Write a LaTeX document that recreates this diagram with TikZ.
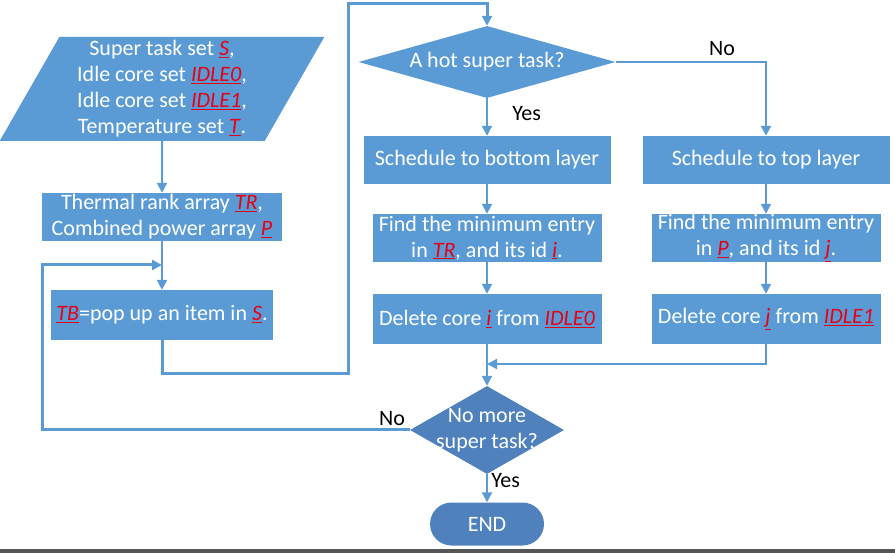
\documentclass[tikz,border=0pt]{standalone}
\usepackage{fontspec}
\setmainfont{Carlito}
\usetikzlibrary{shapes.geometric,shapes.misc,arrows.meta}
\definecolor{boxblue}{RGB}{91,155,213}
\definecolor{darkblue}{RGB}{79,129,189}
\definecolor{varred}{RGB}{232,0,20}
\definecolor{barcolor}{RGB}{85,85,85}
\newcommand{\setvar}[1]{\textcolor{varred}{\underline{\textit{#1}}}}

\begin{document}
\begin{tikzpicture}[x=1pt,y=-1pt,
    every node/.style={font=\fontsize{22}{26}\selectfont},
    box node/.style={rectangle,fill=boxblue,text=white,align=center,inner sep=0pt},
    io node/.style={trapezium,trapezium left angle=63,trapezium right angle=117,trapezium stretches=true,fill=boxblue,text=white,align=center,inner sep=0pt},
    test node/.style={diamond,text=white,align=center},
    stop node/.style={rounded rectangle,fill=darkblue,text=white,inner sep=0pt},
    flow/.style={draw=boxblue,line width=2pt,-{Triangle[length=10pt,width=10pt]}},
    loop line/.style={flow,line width=3pt}]
                \useasboundingbox (0,0) rectangle (895,553);
                \fill[barcolor] (0,549) rectangle (895,553);

                \node[io node,minimum width=325pt,minimum height=104pt] at (162,89) (input) {Super task set \setvar{S},\\Idle core set \setvar{IDLE0},\\Idle core set \setvar{IDLE1},\\Temperature set \setvar{T}.};
                \node[box node,minimum width=240pt,minimum height=48pt] at (162,217) (rank) {Thermal rank array \setvar{TR},\\Combined power array \setvar{P}};
                \node[box node,minimum width=222pt,minimum height=50pt] at (162,315) (pop) {\setvar{TB}=pop up an item in \setvar{S}.};
                \node[test node,fill=boxblue,aspect=3.57,inner sep=0pt,minimum width=257pt,minimum height=72pt] at (487,62) (hot) {A hot super task?};
                \node[box node,minimum width=247pt,minimum height=48pt] at (487,160) (bottom) {Schedule to bottom layer};
                \node[box node,minimum width=247pt,minimum height=48pt] at (766,160) (top) {Schedule to top layer};
                \node[box node,minimum width=229pt,minimum height=48pt] at (487,238) (findb) {Find the minimum entry\\in \setvar{TR}, and its id \setvar{i}.};
                \node[box node,minimum width=229pt,minimum height=48pt] at (766,238) (findt) {Find the minimum entry\\in \setvar{P}, and its id \setvar{j}.};
                \node[box node,minimum width=229pt,minimum height=50pt] at (487,319) (delb) {Delete core \setvar{i} from \setvar{IDLE0}};
                \node[box node,minimum width=229pt,minimum height=50pt] at (766,319) (delt) {Delete core \setvar{j} from \setvar{IDLE1}};
                \node[test node,fill=darkblue,aspect=1.75,inner sep=-12pt,minimum width=154pt,minimum height=88pt] at (487,430) (more) {No more\\super task?};
                \node[stop node,minimum width=114pt,minimum height=43pt] at (487,524) (stop) {END};

                \coordinate (join) at (487,364);
                \coordinate (back) at (162,265);

                \path
                    (input) edge[flow] (rank)
                    (rank) edge[flow] (pop)
                    (hot) edge[flow] node[right,pos=0.4,xshift=21pt] {Yes} (bottom)
                    (bottom) edge[flow] (findb)
                    (findb) edge[flow] (delb)
                    (top) edge[flow] (findt)
                    (findt) edge[flow] (delt)
                    (delb) edge[flow] (more)
                    ;
                \draw[flow] (hot.east) -| node[pos=0.354,above,yshift=2pt] {No} (top.north);
                \draw[flow] (delt.south) |- (join);
                \draw[flow] (more.south) node[below right,yshift=5pt] {Yes} -- (stop.north);
                \draw[loop line] (pop.south) |- (348,374) -- (348,4) -| (hot.north);
                \draw[loop line] (more.west) node[above left] {No} -| (42,265) -- (back);
            \end{tikzpicture}
\end{document}
